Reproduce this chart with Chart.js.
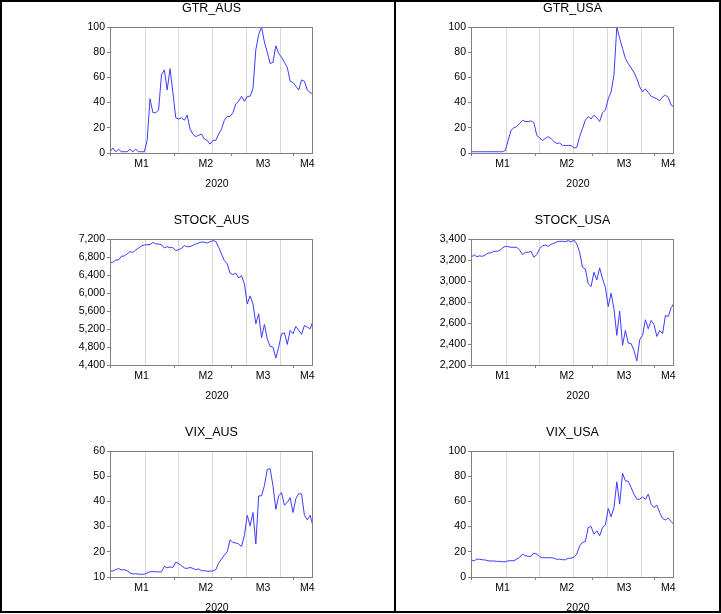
<!DOCTYPE html>
<html><head><meta charset="utf-8">
<script src="https://cdn.jsdelivr.net/npm/chart.js@4"></script>
<style>
html,body{margin:0;padding:0;background:#fff;overflow:hidden;width:721px;height:614px;}
#frame{position:absolute;left:0;top:0;width:721px;height:613px;border:2px solid #000;box-sizing:border-box;}
#divider{position:absolute;left:394px;top:0;width:2px;height:613px;background:#000;}
canvas{position:absolute;}
</style></head><body>
<div id="frame"></div><div id="divider"></div>
<canvas id="c1" width="360" height="200" style="left:0;top:0"></canvas>
<canvas id="c2" width="360" height="200" style="left:361px;top:0"></canvas>
<canvas id="c3" width="360" height="200" style="left:0;top:212px"></canvas>
<canvas id="c4" width="360" height="200" style="left:361px;top:212px"></canvas>
<canvas id="c5" width="360" height="200" style="left:0;top:424px"></canvas>
<canvas id="c6" width="360" height="200" style="left:361px;top:424px"></canvas>
<script>
// ---- data (5-day weekly observations, Jan 2020 - early Apr 2020) ----
const monthLabels = ['M1', 'M2', 'M3', 'M4'];
const monthLabelPos = [11, 33.5, 53.5, 69];
const monthBounds = [0, 22.5, 42.5, 64.3];
const gridPos = [12.4, 24.1, 36, 47.9, 59.7];
const yearLabel = '2020';

const titles = ['GTR_AUS', 'GTR_USA', 'STOCK_AUS', 'STOCK_USA', 'VIX_AUS', 'VIX_USA'];

const gtrAus = [1, 4, 1, 3, 1, 1, 1, 3, 1, 3, 1, 1, 1, 10, 43, 32, 32, 34, 62, 66, 50, 67, 48, 28, 27, 28, 26, 30, 19, 15, 13, 14, 15, 11, 10, 7, 10, 10, 15, 19, 26, 29, 29, 32, 39, 41, 45, 41, 45, 45, 51, 82, 94, 100, 88, 80, 71, 72, 85, 79, 76, 72, 68, 57, 56, 53, 50, 58, 57, 50, 48, 47];
const gtrUsa = [1, 1, 1, 1, 1, 1, 1, 1, 1, 1, 1, 1, 2, 10, 18, 20, 21, 23.5, 26, 25, 25, 25.5, 24, 14, 12, 10, 11.5, 13, 11.5, 9, 7.5, 8, 6, 6, 6, 6, 4, 4.5, 13, 19.5, 26, 29, 27, 30, 28, 25, 32, 34, 43, 48.5, 62, 100, 91, 83, 75, 71, 67.5, 64, 59, 52.5, 48.5, 51, 48, 45, 44, 43, 41.5, 44.5, 46, 44, 38, 36.5];
const stockAus = [6675, 6683, 6734, 6734, 6816, 6823, 6867, 6919, 6904, 6956, 7000, 7045, 7067, 7074, 7074, 7126, 7089, 7089, 7074, 7000, 7030, 7008, 7008, 6941, 6963, 6993, 7052, 7030, 7030, 7060, 7089, 7111, 7133, 7126, 7111, 7141, 7163, 7148, 7015, 6867, 6720, 6646, 6439, 6409, 6439, 6335, 6387, 6202, 5759, 5936, 5759, 5316, 5537, 5005, 5301, 4983, 4813, 4798, 4554, 4798, 5094, 5116, 4857, 5168, 5094, 5257, 5168, 5079, 5279, 5242, 5205, 5375];
const stockUsa = [3220, 3251, 3232, 3239, 3235, 3248, 3267, 3267, 3283, 3283, 3289, 3315, 3330, 3327, 3321, 3321, 3321, 3296, 3251, 3273, 3273, 3283, 3226, 3251, 3308, 3334, 3343, 3330, 3349, 3359, 3372, 3378, 3378, 3375, 3384, 3372, 3390, 3353, 3273, 3131, 3115, 2973, 2947, 3083, 3011, 3125, 3020, 2941, 2757, 2884, 2735, 2482, 2713, 2387, 2529, 2409, 2403, 2339, 2238, 2441, 2482, 2631, 2545, 2624, 2586, 2472, 2529, 2498, 2672, 2662, 2745, 2789];
const vixAus = [12.4, 12.4, 12.9, 13.4, 12.8, 12.9, 12.5, 11.6, 11.2, 11.3, 11.1, 11.1, 11.1, 11.6, 12.1, 12.1, 12.1, 12.0, 12.0, 14.2, 13.7, 14.0, 13.8, 15.9, 15.3, 14.5, 13.6, 13.4, 13.8, 13.4, 12.9, 13.2, 12.5, 12.5, 12.3, 12.3, 12.4, 12.9, 15.5, 17.1, 18.7, 20.0, 24.8, 23.7, 23.5, 23.1, 22.1, 26.4, 34.5, 30.3, 35.6, 23.1, 42.2, 42.2, 46.2, 52.7, 53.0, 46.2, 36.9, 42.2, 43.5, 38.5, 39.6, 41.5, 35.6, 41.1, 43.1, 42.9, 34.5, 32.7, 34.5, 30.3];
const vixUsa = [13.7, 12.7, 14.2, 14.0, 13.7, 13.5, 12.9, 12.7, 12.7, 12.4, 12.4, 12.1, 12.1, 12.9, 12.9, 12.9, 14.2, 15.6, 18.2, 16.9, 16.4, 16.4, 19.0, 18.2, 16.1, 15.3, 15.3, 15.3, 15.3, 15.0, 14.0, 14.2, 13.7, 13.7, 14.8, 15.0, 15.6, 18.2, 24.8, 27.4, 28.2, 39.3, 40.1, 34.0, 36.7, 32.7, 39.3, 41.2, 54.4, 47.8, 55.1, 75.5, 57.8, 82.3, 76.3, 76.0, 71.0, 65.7, 61.7, 61.7, 63.6, 61.7, 65.7, 57.8, 55.1, 57.0, 51.2, 46.4, 45.4, 46.7, 44.1, 41.7];

const yMins = [0, 0, 4400, 2200, 10, 0];
const yMaxs = [100, 100, 7200, 3400, 60, 100];
const ySteps = [20, 20, 400, 200, 10, 20];
const series = [gtrAus, gtrUsa, stockAus, stockUsa, vixAus, vixUsa];

// ---- styles ----
const FONT = '"Liberation Sans", Arial, sans-serif';
const LINE = '#3b3bff';
const GRID = '#d9d9d9';
const AXIS = '#808080';
const CLEAR = 'rgba(0,0,0,0)';

const frameAndYear = {
  id: 'frameAndYear',
  afterDraw(chart) {
    const {ctx, chartArea: a} = chart;
    ctx.save();
    ctx.strokeStyle = AXIS;
    ctx.lineWidth = 1;
    const l = Math.round(a.left), t = Math.round(a.top), r = Math.round(a.right), b = Math.round(a.bottom);
    ctx.strokeRect(l + 0.5, t + 0.5, r - l - 1, b - t);
    ctx.fillStyle = '#000';
    ctx.font = '10.5px ' + FONT;
    ctx.textAlign = 'center';
    ctx.textBaseline = 'middle';
    ctx.fillText(yearLabel, (a.left + a.right) / 2 + 5.5, a.bottom + 31);
    ctx.restore();
  }
};

function makeChart(id, title, values, yMin, yMax, yStep) {
  const last = values.length - 1;
  const xTicks = [...monthBounds, ...gridPos, ...monthLabelPos, last].sort((a, b) => a - b);
  new Chart(document.getElementById(id), {
    type: 'line',
    data: {
      datasets: [{
        data: values.map((v, i) => ({x: i, y: v})),
        borderColor: LINE, borderWidth: 1, pointRadius: 0, tension: 0, fill: false
      }]
    },
    options: {
      responsive: false, animation: false, devicePixelRatio: 1,
      layout: {padding: {left: 70, right: 47, top: 0, bottom: 0}},
      plugins: {
        legend: {display: false},
        tooltip: {enabled: false},
        title: {
          display: true, text: title, fullSize: false, color: '#000',
          font: {family: FONT, size: 12.5, weight: 'normal'},
          padding: {top: 1.5, bottom: 10.5}
        }
      },
      scales: {
        x: {
          type: 'linear', min: 0, max: last,
          afterBuildTicks: s => { s.ticks = xTicks.map(v => ({value: v})); },
          afterFit: s => { s.height = 47; },
          ticks: {
            autoSkip: false, maxRotation: 0, minRotation: 0, padding: 2, color: '#000',
            font: {family: FONT, size: 10.5},
            callback: v => { const k = monthLabelPos.indexOf(v); return k >= 0 ? monthLabels[k] : ''; }
          },
          grid: {
            drawOnChartArea: true, drawTicks: true, tickLength: 3, lineWidth: 1,
            color: c => (c.tick && gridPos.includes(c.tick.value)) ? GRID : CLEAR,
            tickColor: c => (c.tick && monthBounds.includes(c.tick.value)) ? AXIS : CLEAR
          },
          border: {display: false}
        },
        y: {
          type: 'linear', min: yMin, max: yMax,
          afterFit: s => { s.width = 40; },
          ticks: {
            stepSize: yStep, padding: 2, color: '#000',
            font: {family: FONT, size: 10.5},
            callback: v => Number(v).toLocaleString('en-US')
          },
          grid: {drawOnChartArea: false, drawTicks: true, tickLength: 3, tickColor: AXIS},
          border: {display: false}
        }
      }
    },
    plugins: [frameAndYear]
  });
}

series.forEach((s, i) => makeChart('c' + (i + 1), titles[i], s, yMins[i], yMaxs[i], ySteps[i]));
</script>
</body></html>
